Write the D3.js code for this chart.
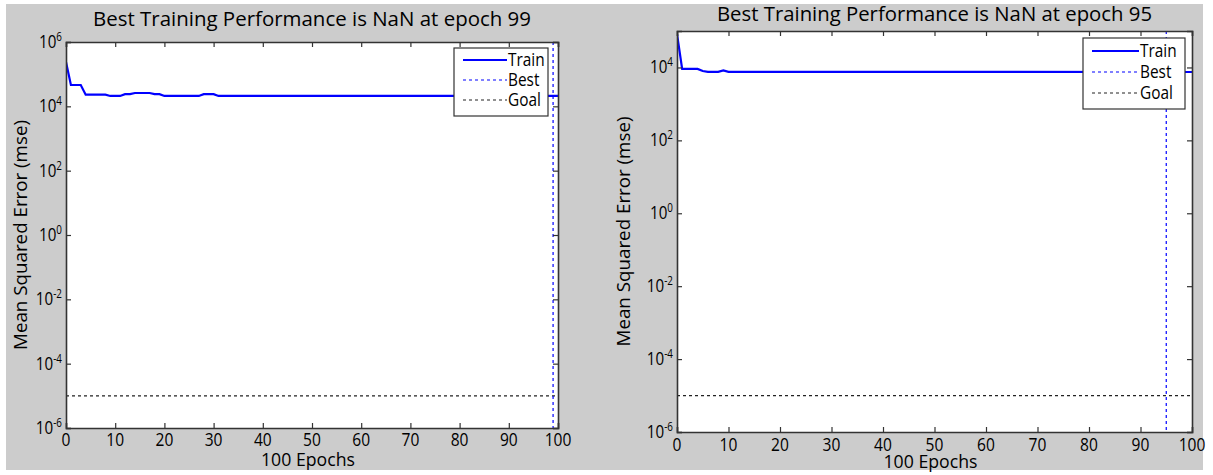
<!DOCTYPE html>
<html>
<head>
<meta charset="utf-8">
<script src="https://cdn.jsdelivr.net/npm/d3@7"></script>
<style>
  body { margin: 0; background: #ffffff; }
  text { font-family: "Open Sans", sans-serif; fill: #000; }
</style>
</head>
<body>
<div id="chart"></div>
<script>
// x axis ticks (epochs) and y axis tick exponents (powers of ten)
const epochTicks = [0, 10, 20, 30, 40, 50, 60, 70, 80, 90, 100];
const mseTickExps = [-6, -4, -2, 0, 2, 4, 6];
const legendLabels = ["Train", "Best", "Goal"];

// left run
const leftTitle = "Best Training Performance is NaN at epoch 99";
const leftEpochs = [0, 1, 3, 4, 8, 9, 11, 12, 13, 14, 17, 18, 19, 20, 27, 28, 30, 31, 100];
const leftTrain = [2.4e5, 4.6e4, 4.6e4, 2.3e4, 2.3e4, 2.1e4, 2.1e4, 2.4e4, 2.4e4, 2.6e4, 2.6e4, 2.4e4, 2.4e4, 2.1e4, 2.1e4, 2.4e4, 2.4e4, 2.1e4, 2.1e4];
const leftBest = 99;
const leftGoal = 1e-5;

// right run
const rightTitle = "Best Training Performance is NaN at epoch 95";
const rightEpochs = [0, 1, 4, 5, 6, 8, 9, 10, 100];
const rightTrain = [8.3e4, 9.1e3, 9.1e3, 8.0e3, 7.6e3, 7.6e3, 8.3e3, 7.6e3, 7.5e3];
const rightBest = 95;
const rightGoal = 1e-5;

const svg = d3.select("#chart").append("svg")
  .attr("width", 1213)
  .attr("height", 475);

svg.append("rect").attr("x", 6).attr("y", 4).attr("width", 1197).attr("height", 466).attr("fill", "#cccccc");

// the original font is a condensed one, so squeeze Open Sans horizontally
const SQ = 0.82;

function drawPanel(p) {
  const x = d3.scaleLinear().domain([0, 100]).range([p.x0, p.x1]);
  const y = d3.scaleLog().domain([1e-6, Math.pow(10, p.topExp)]).range([p.y1, p.y0]);
  const g = svg.append("g");

  const clipId = "clip" + p.id;
  g.append("clipPath").attr("id", clipId).append("rect")
    .attr("x", p.x0).attr("y", p.y0).attr("width", p.x1 - p.x0).attr("height", p.y1 - p.y0);

  g.append("rect")
    .attr("x", p.x0).attr("y", p.y0)
    .attr("width", p.x1 - p.x0).attr("height", p.y1 - p.y0)
    .attr("fill", "#fff");

  // goal line
  g.append("line")
    .attr("x1", p.x0).attr("x2", p.x1)
    .attr("y1", y(p.goal)).attr("y2", y(p.goal))
    .attr("stroke", "#222").attr("stroke-width", 1.2).attr("stroke-dasharray", "3,3");

  // best epoch line
  g.append("line")
    .attr("x1", x(p.best)).attr("x2", x(p.best))
    .attr("y1", p.y0).attr("y2", p.y1)
    .attr("stroke", "#0000ff").attr("stroke-width", 1.2).attr("stroke-dasharray", "3,3");

  // training curve
  const pts = p.epochs.map((e, i) => [e, p.train[i]]);
  g.append("path")
    .datum(pts)
    .attr("clip-path", `url(#${clipId})`)
    .attr("fill", "none")
    .attr("stroke", "#0000ff")
    .attr("stroke-width", 2.2)
    .attr("d", d3.line().x(d => x(d[0])).y(d => y(d[1])));

  // axes: ticks inward on all four sides
  const yTicks = mseTickExps.map(e => Math.pow(10, e)).filter(v => v <= Math.pow(10, p.topExp));
  const axisColor = "#333";
  g.append("g").attr("transform", `translate(0,${p.y1})`)
    .call(d3.axisBottom(x).tickValues(epochTicks).tickSize(-5).tickFormat(""));
  g.append("g").attr("transform", `translate(0,${p.y0})`)
    .call(d3.axisTop(x).tickValues(epochTicks).tickSize(-5).tickFormat(""));
  g.append("g").attr("transform", `translate(${p.x0},0)`)
    .call(d3.axisLeft(y).tickValues(yTicks).tickSize(-5).tickFormat(""));
  g.append("g").attr("transform", `translate(${p.x1},0)`)
    .call(d3.axisRight(y).tickValues(yTicks).tickSize(-5).tickFormat(""));
  g.selectAll(".domain").attr("stroke", axisColor).attr("stroke-width", 1.6);
  g.selectAll(".tick line").attr("stroke", axisColor).attr("stroke-width", 1.2);

  // x tick labels
  g.selectAll(".xlab").data(epochTicks).enter().append("text")
    .attr("transform", d => `translate(${x(d)},${p.xTickY}) scale(${SQ},1)`)
    .attr("text-anchor", "middle")
    .attr("font-size", 19)
    .text(d => d);

  // y tick labels 10^n
  const yl = g.selectAll(".ylab").data(yTicks).enter().append("text")
    .attr("transform", d => `translate(${p.x0 - 4},${y(d) + 6}) scale(${SQ},1)`)
    .attr("text-anchor", "end")
    .attr("font-size", 18.5);
  yl.append("tspan").text("10");
  yl.append("tspan").attr("dy", -7).attr("font-size", 12).text(d => Math.round(Math.log10(d)));

  // titles
  g.append("text")
    .attr("x", (p.x0 + p.x1) / 2).attr("y", p.titleY)
    .attr("text-anchor", "middle").attr("font-size", 20)
    .attr("textLength", p.titleW).attr("lengthAdjust", "spacingAndGlyphs")
    .text(p.title);
  g.append("text")
    .attr("x", (p.x0 + p.x1) / 2 - 4).attr("y", p.xLabelY)
    .attr("text-anchor", "middle").attr("font-size", 18)
    .attr("textLength", 94).attr("lengthAdjust", "spacingAndGlyphs")
    .text("100 Epochs");
  g.append("text")
    .attr("transform", `translate(${p.yLabelX},${(p.y0 + p.y1) / 2}) rotate(-90)`)
    .attr("text-anchor", "middle").attr("font-size", 19)
    .attr("textLength", 230).attr("lengthAdjust", "spacingAndGlyphs")
    .text("Mean Squared Error (mse)");

  // legend
  const L = p.legend;
  const lg = g.append("g").attr("transform", `translate(${L.x},${L.y})`);
  lg.append("rect").attr("width", L.w).attr("height", L.h)
    .attr("fill", "#fff").attr("stroke", axisColor).attr("stroke-width", 1.2);
  const styles = [
    { color: "#0000ff", width: 2.2, dash: null },
    { color: "#0000ff", width: 1.2, dash: "3,3" },
    { color: "#222", width: 1.2, dash: "3,3" }
  ];
  legendLabels.forEach((lab, i) => {
    const cy = L.pad + i * L.step;
    lg.append("line")
      .attr("x1", 9).attr("x2", L.lineEnd).attr("y1", cy).attr("y2", cy)
      .attr("stroke", styles[i].color).attr("stroke-width", styles[i].width)
      .attr("stroke-dasharray", styles[i].dash);
    lg.append("text")
      .attr("transform", `translate(${L.lineEnd + 1},${cy + 6}) scale(0.88,1)`)
      .attr("font-size", 17.5)
      .text(lab);
  });
}

drawPanel({
  id: "L", x0: 66, x1: 558, y0: 42, y1: 428, topExp: 6,
  epochs: leftEpochs, train: leftTrain, best: leftBest, goal: leftGoal,
  title: leftTitle, titleW: 438, titleY: 26, xTickY: 446, xLabelY: 466, yLabelX: 27,
  legend: { x: 454, y: 48, w: 94, h: 68, pad: 12, step: 20, lineEnd: 53 }
});

drawPanel({
  id: "R", x0: 677, x1: 1192, y0: 31, y1: 432, topExp: 5,
  epochs: rightEpochs, train: rightTrain, best: rightBest, goal: rightGoal,
  title: rightTitle, titleW: 435, titleY: 21, xTickY: 451, xLabelY: 468, yLabelX: 630,
  legend: { x: 1083, y: 38, w: 102, h: 71, pad: 13, step: 21, lineEnd: 56 }
});
</script>
</body>
</html>
